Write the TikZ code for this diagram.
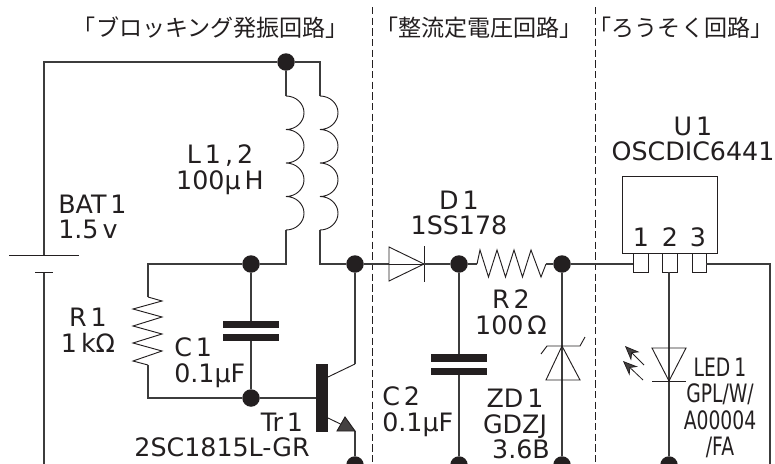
\documentclass[tikz,border=0pt]{standalone}
\usepackage{fontspec}
\setmainfont{DejaVu Sans}
\newfontfamily\jpfont{Noto Sans CJK JP}
\newfontfamily\condfont[FakeStretch=0.74]{DejaVu Sans}
\usetikzlibrary{arrows.meta}
\definecolor{wire}{RGB}{60,60,60}
\definecolor{ink}{RGB}{35,31,32}
\newcommand{\gap}{\hspace{3pt}}
\tikzset{
  wireline/.style={draw=wire,line width=0.9pt},
  partline/.style={draw=ink,line width=0.7pt},
  platebar/.style={fill=ink,draw=none},
  dot/.style={circle,fill=ink,inner sep=0pt,minimum size=17.5pt*0.75},
  lbl/.style={text=ink,font=\fontsize{19}{19.3}\selectfont,align=center,inner sep=0pt},
  lblw/.style={lbl,align=left,anchor=west},
  head/.style={text=ink,font=\jpfont\fontsize{17.3}{20}\selectfont,inner sep=0pt},
  zone/.style={draw=ink,line width=0.55pt,dash pattern=on 5.5pt off 2.5pt},
  lighttip/.style={draw=ink,line width=0.6pt,-{Stealth[length=11pt,width=9pt,fill=ink!85]}}
}
\begin{document}
\begin{tikzpicture}[x=0.75pt,y=-0.75pt]
\useasboundingbox (0,0) rectangle (775,464);
% junctions
\node [dot] (top) at (286,62) {};
\node [dot] (base1) at (251,264) {};
\node [dot] (coll) at (355,264) {};
\node [dot] (base2) at (251,398) {};
\node [dot] (emit) at (355,465) {};
\node [dot] (da) at (459,264) {};
\node [dot] (db) at (562,264) {};
\node [dot] (dc) at (459,465) {};
\node [dot] (dd) at (562,465) {};
\node [dot] (de) at (669,465) {};
% free ends
\coordinate (batp) at (44,255);
\coordinate (batn) at (44,272);
\coordinate (batb) at (44,464);
\coordinate (tl) at (44,62);
\coordinate (tr) at (320,62);
\coordinate (la) at (286,96);
\coordinate (lb) at (286,230);
\coordinate (lc) at (320,96);
\coordinate (ld) at (320,230);
\coordinate (ra) at (148,297);
\coordinate (rb) at (148,365);
\coordinate (rc) at (477,264);
\coordinate (rd) at (546,264);
\coordinate (trb) at (316,398);
\coordinate (trc) at (328,377);
\coordinate (tre) at (328,418);
\coordinate (ca) at (355,364);
\coordinate (ce) at (355,431);
\coordinate (dia) at (389,264);
\coordinate (dik) at (424,264);
\coordinate (pb) at (669,272);
\coordinate (pc) at (706,264);
\coordinate (ledk) at (669,381);
% zones
\draw [zone] (372,7) -- (372,464);
\draw [zone] (595,7) -- (595,464);
% battery
\draw [wireline] (batb) -- (batn);
\draw [wireline] (batp) -- (tl) -- (top) -- (tr) -- (lc);
\draw [partline] (9,255) -- (79,255);
\draw [partline] (35,272) -- (53,272);
% coils
\draw [wireline] (top) -- (la);
\draw [wireline] (lb) -- (286,264) -- (base1) -- (148,264) -- (ra);
\draw [wireline] (ld) -- (320,264) -- (coll) -- (dia);
\draw [partline] (la) foreach \i in {0,1,2,3} {
  arc [start angle=90,end angle=-90,x radius=18,y radius=-16.75] };
\draw [partline] (lc) foreach \i in {0,1,2,3} {
  arc [start angle=90,end angle=-90,x radius=18,y radius=-16.75] };
% R1
\draw [partline] (ra) -- (162,301) -- (133,309) -- (162,317) -- (133,326) -- (162,334) -- (133,343) -- (162,351) -- (133,361) -- (rb);
\draw [wireline] (rb) -- (148,398) -- (base2) -- (trb);
% C1
\draw [wireline] (base1) -- (251,321);
\draw [wireline] (251,341) -- (base2);
\fill [platebar] (223,321) rectangle (279,328);
\fill [platebar] (223,334) rectangle (279,341);
% Tr1
\fill [platebar] (316,364) rectangle (328,432);
\draw [partline] (trc) -- (ca);
\draw [wireline] (ca) -- (coll);
\draw [partline] (tre) -- (ce);
\draw [wireline] (ce) -- (emit);
\draw [partline,fill=ink!85] (345,417) -- (355,431) -- (337,431) -- cycle;
% D1
\draw [partline] (dia) -- (dik);
\draw [partline] (389,247) -- (dik) -- (389,281) -- cycle;
\draw [partline] (424,246) -- (424,282);
\draw [wireline] (dik) -- (da);
% R2
\draw [wireline] (da) -- (rc);
\draw [partline] (rc) -- (480,250) -- (488.5,277) -- (497,250) -- (505.5,277) -- (514,250) -- (522.5,277) -- (531,250) -- (541,277) -- (rd);
\draw [wireline] (rd) -- (db) -- (633,264);
% C2
\draw [wireline] (da) -- (459,354);
\draw [wireline] (459,375) -- (dc);
\fill [platebar] (431,354) rectangle (487,362);
\fill [platebar] (431,368) rectangle (487,375);
% ZD1
\draw [wireline] (db) -- (dd);
\draw [partline] (562,346) -- (546,380) -- (580,380) -- cycle;
\draw [partline] (541,354) -- (547,346) -- (580,346) -- (585,337);
% U1
\draw [partline] (622,176) rectangle (717,253);
\draw [partline] (633,253) rectangle (648,272);
\draw [partline] (662,253) rectangle (677,272);
\draw [partline] (692,253) rectangle (706,272);
\draw [wireline] (pc) -- (770,264) -- (770,464);
% LED1
\draw [wireline] (pb) -- (ledk) -- (de);
\draw [partline] (652,348) -- (686,348) -- (ledk) -- cycle;
\draw [partline] (652,381) -- (686,381);
\draw [lighttip] (644,365) -- (625,346);
\draw [lighttip] (643,380) -- (623,361);
% labels
\node [head] (h1) at (211,28) {「ブロッキング発振回路」};
\node [head] (h2) at (479,28) {「整流定電圧回路」};
\node [head] (h3) at (681,28) {「ろうそく回路」};
\node [lblw] (batl) at (58,217) {BAT\gap 1\\1.5\gap v};
\node [lbl] (l12) at (220,170) {L\gap 1\gap ,\gap 2\\100µ\gap H};
\node [lbl] (r1l) at (88,330) {R\gap 1\\1\gap kΩ};
\node [lblw] (c1l) at (174,363) {C\gap 1\\0.1µF};
\node [lbl,align=right,anchor=east] (tr1l) at (310,435) {Tr\gap 1\hspace*{5pt}\\2SC1815L-GR};
\node [lbl] (d1l) at (459,213) {D\gap 1\\1SS178};
\node [lbl] (r2l) at (511,312) {R\gap 2\\100\gap Ω};
\node [lblw] (c2l) at (382,412) {C\gap 2\\0.1µF};
\node [lbl] (zd1l) at (515,424) {ZD\gap 1\\GDZJ\\\hspace*{9pt}3.6B};
\node [lbl] (u1l) at (693,139) {U\gap 1\\OSCDIC6441};
\node [lbl] (p1) at (641,237) {1};
\node [lbl] (p2) at (670,237) {2};
\node [lbl] (p3) at (698,237) {3};
\node [lbl,font=\condfont\fontsize{19}{19.8}\selectfont] (led1l) at (720,408) {LED\gap 1\\GPL/W/\\A00004\\/FA};
\end{tikzpicture}
\end{document}
